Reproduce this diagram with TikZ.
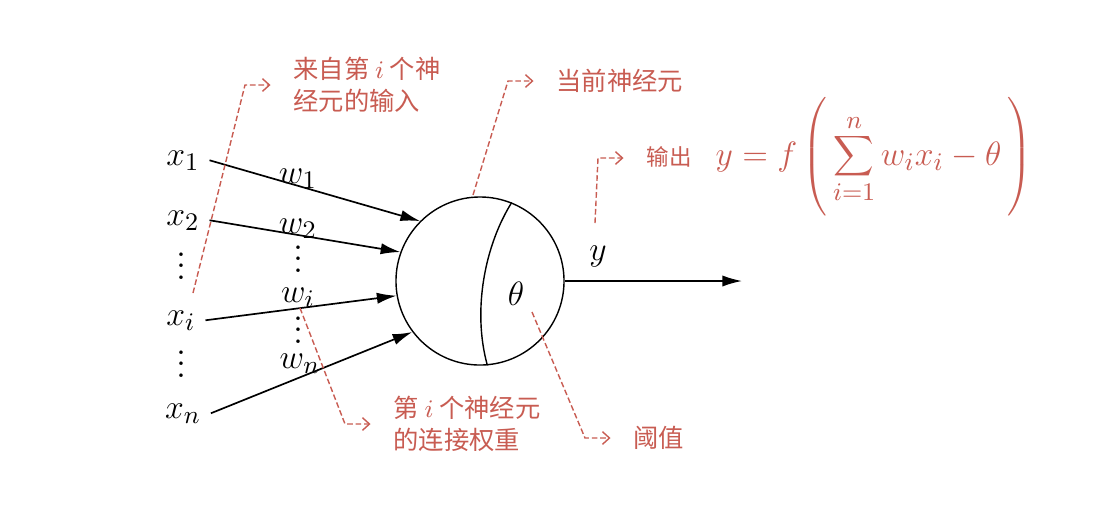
\documentclass[tikz,border=0pt]{standalone}
\usepackage{fontspec}
\usepackage{tikz}
\usetikzlibrary{positioning,arrows.meta}
\newfontfamily\cjk{Noto Sans CJK SC}
\definecolor{notered}{RGB}{200,92,82}
\newcommand\tvdots{\vbox{\baselineskip 4pt \lineskiplimit 0pt \hbox{.}\hbox{.}\hbox{.}}}

\begin{document}
\begin{tikzpicture}[x=0.0125cm, y=-0.0125cm,
  lab/.style={font=\fontsize{13}{15}\selectfont, anchor=base},
  dots/.style={font=\fontsize{13}{15}\selectfont, inner sep=0pt},
  syn/.style={-{Latex[length=7pt,width=4pt]}, line width=0.6pt},
  note/.style={notered, line width=0.5pt, dash pattern=on 2pt off 1pt,
    -{Straight Barb[length=2.5pt,width=4.5pt]}, shorten >=8pt},
  cnote/.style={text=notered, font=\cjk\fontsize{9}{11.5}\selectfont, inner sep=0pt, align=left}]
\useasboundingbox (0,0) rectangle (1118,512);
% neuron
\node [circle, draw, line width=0.5pt, minimum size=2.1cm, inner sep=0pt] (n) at (480,281) {};
\draw [line width=0.5pt] (n.68) .. controls (485,245) and (472,310) .. (n.275);
\node [lab] (th) at (516,305) {$\theta$};
% inputs
\node [lab] (x1) at (183,165) {$x_1$};
\node [lab] (x2) at (183,225) {$x_2$};
\node [lab] (xi) at (181,325) {$x_i$};
\node [lab] (xn) at (183,418) {$x_n$};
\node [dots] (xd1) at (181,266) {\tvdots};
\node [dots] (xd2) at (181,364) {\tvdots};
% weights
\node [lab] (w1) at (298,183) {$w_1$};
\node [lab] (w2) at (298,233) {$w_2$};
\node [lab] (wi) at (298,302) {$w_i$};
\node [lab] (wn) at (300,368) {$w_n$};
\node [dots] (wd1) at (298,259) {\tvdots};
\node [dots] (wd2) at (298,330) {\tvdots};
\draw [syn] (x1.east) -- (n.135);
\draw [syn] (x2.east) -- (n.160);
\draw [syn] (xi.east) -- (n.190);
\draw [syn] (xn.east) -- (n.217);
% output
\coordinate (out) at (742,281);
\draw [syn] (n.east) -- (out);
\node [lab] (y) at (598,260) {$y$};
% notes
\coordinate (a1) at (193,293);
\coordinate (a2) at (245,85);
\node [cnote, right=0.6cm of a2] (tin) {来自第 $i$ 个神\\经元的输入};
\draw [note] (a1) -- (a2) -- (tin.west);
\coordinate (b1) at (473,195);
\coordinate (b2) at (508,81);
\node [cnote, right=0.6cm of b2] (tcur) {当前神经元};
\draw [note] (b1) -- (b2) -- (tcur.west);
\coordinate (c1) at (595,223);
\coordinate (c2) at (598,158);
\node [cnote, right=0.6cm of c2, font=\fontsize{13}{15}\selectfont] (tout)
  {{\cjk\fontsize{8}{10}\selectfont 输出}\hspace{3mm}$\displaystyle y=f\left(\rule[-19pt]{0pt}{42pt}\sum_{i=1}^{n} w_i x_i-\theta\,\right)$};
\draw [note] (c1) -- (c2) -- (tout.west);
\coordinate (d1) at (300,308);
\coordinate (d2) at (345,424);
\node [cnote, right=0.6cm of d2] (tw) {第 $i$ 个神经元\\的连接权重};
\draw [note] (d1) -- (d2) -- (tw.west);
\coordinate (e1) at (532,312);
\coordinate (e2) at (585,438);
\node [cnote, right=0.6cm of e2] (tth) {阈值};
\draw [note] (e1) -- (e2) -- (tth.west);
\end{tikzpicture}
\end{document}
